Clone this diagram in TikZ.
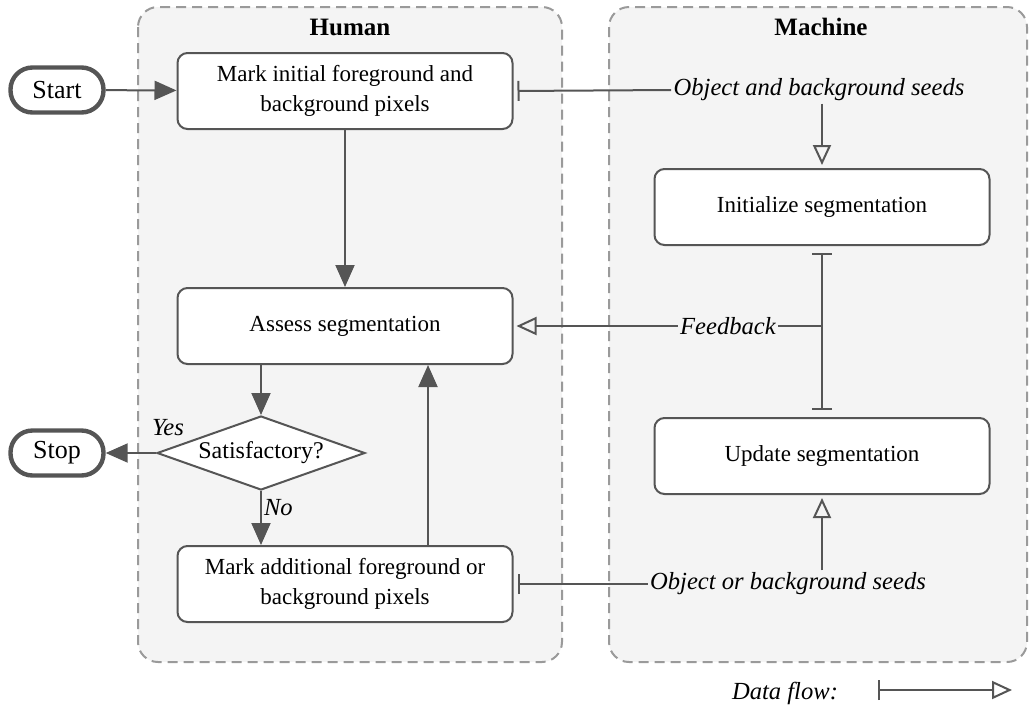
\documentclass[tikz,border=0pt]{standalone}
\usepackage{fontspec}
\setmainfont{Liberation Serif}
\usetikzlibrary{arrows.meta,shapes.geometric}
\definecolor{lanefill}{HTML}{F4F4F4}
\definecolor{laneline}{HTML}{9A9A9A}
\definecolor{ink}{HTML}{555555}

\begin{document}
\begin{tikzpicture}[x=.5pt,y=-.5pt,
  lane/.style={draw=laneline,fill=lanefill,line width=1pt,dash pattern=on 5pt off 3pt,rounded corners=10pt},
  title/.style={font=\fontsize{12.5}{15}\bfseries\selectfont},
  procbox/.style={draw=ink,fill=white,line width=1pt,rounded corners=5pt,minimum width=167.5pt,minimum height=38pt,align=center,font=\fontsize{11.5}{15}\selectfont},
  term/.style={draw=ink,fill=white,line width=2.2pt,rounded corners=11pt,minimum width=46.5pt,minimum height=22.5pt,font=\fontsize{13}{15}\selectfont},
  decide/.style={diamond,draw=ink,fill=white,line width=1pt,aspect=2.8,inner sep=0pt,minimum width=104pt,minimum height=37pt,font=\fontsize{12}{15}\selectfont},
  lbl/.style={font=\fontsize{12.3}{14}\itshape\selectfont,inner sep=1pt},
  flow/.style={draw=ink,line width=1pt,-{Triangle[length=11pt,width=9.5pt]}},
  datafrom/.style={draw=ink,line width=1pt,{Bar[width=10pt]}-,shorten <=2pt},
  datato/.style={draw=ink,line width=1pt,-{Triangle[open,length=10pt,width=9pt]},shorten >=1.5pt}]
\useasboundingbox (0,0) rectangle (1029,708);

% Swim lanes.
\draw[lane] (138,7) rectangle (562,662);
\draw[lane] (609,7) rectangle (1027,662);
\node[title] (human) at (350,27) {Human};
\node[title] (machine) at (821,27) {Machine};

% Human side.
\node[term] (start) at (57,90) {Start};
\node[term] (stop) at (57,453) {Stop};
\node[procbox] (mark1) at (345,91) {Mark initial foreground and\\background pixels};
\node[procbox] (assess) at (345,326) {Assess segmentation};
\node[decide] (sat) at (261,453) {Satisfactory?};
\node[procbox] (mark2) at (345,584) {Mark additional foreground or\\background pixels};

% Machine side.
\node[procbox] (init) at (822,207) {Initialize segmentation};
\node[procbox] (update) at (822,456) {Update segmentation};
\node[lbl] (seeds1) at (819,90) {Object and background seeds};
\node[lbl] (fb) at (728,326) {Feedback};
\node[lbl] (seeds2) at (788,584) {Object or background seeds};
\coordinate (fbj) at (822,326);

% Control flow.
\draw[flow] (start) -- (mark1);
\draw[flow] (mark1) -- (assess);
\draw[flow] ([xshift=-42pt]assess.south) -- (sat.north);
\draw[flow] (sat.west) -- (stop.east);
\node[lbl] (yes) at (168,428) {Yes};
\draw[flow] (sat.south) -- node[lbl,right,pos=.3] (no) {No} ([xshift=-42pt]mark2.north);
\draw[flow] ([xshift=41.5pt]mark2.north) -- ([xshift=41.5pt]assess.south);

% Data flow.
\draw[datafrom] (mark1.east) -- (seeds1.west);
\draw[datato] (seeds1.south -| init.north) -- (init.north);
\draw[draw=ink,line width=1pt,{Bar[width=10pt]}-{Bar[width=10pt]},shorten <=3.5pt,shorten >=3.5pt] (init.south) -- (update.north);
\draw[draw=ink,line width=1pt] (fbj) -- (fb.east);
\draw[datato] (fb.west) -- (assess.east);
\draw[datafrom] (mark2.east) -- (seeds2.west);
\draw[datato] (seeds2.north -| update.south) -- (update.south);

% Legend.
\node[lbl] (legend) at (785,693) {Data flow:};
\coordinate (legA) at (878,690);
\coordinate (legB) at (1012,690);
\draw[draw=ink,line width=1pt,{Bar[width=10pt]}-{Triangle[open,length=10pt,width=9pt]}] (legA) -- (legB);
\end{tikzpicture}
\end{document}
